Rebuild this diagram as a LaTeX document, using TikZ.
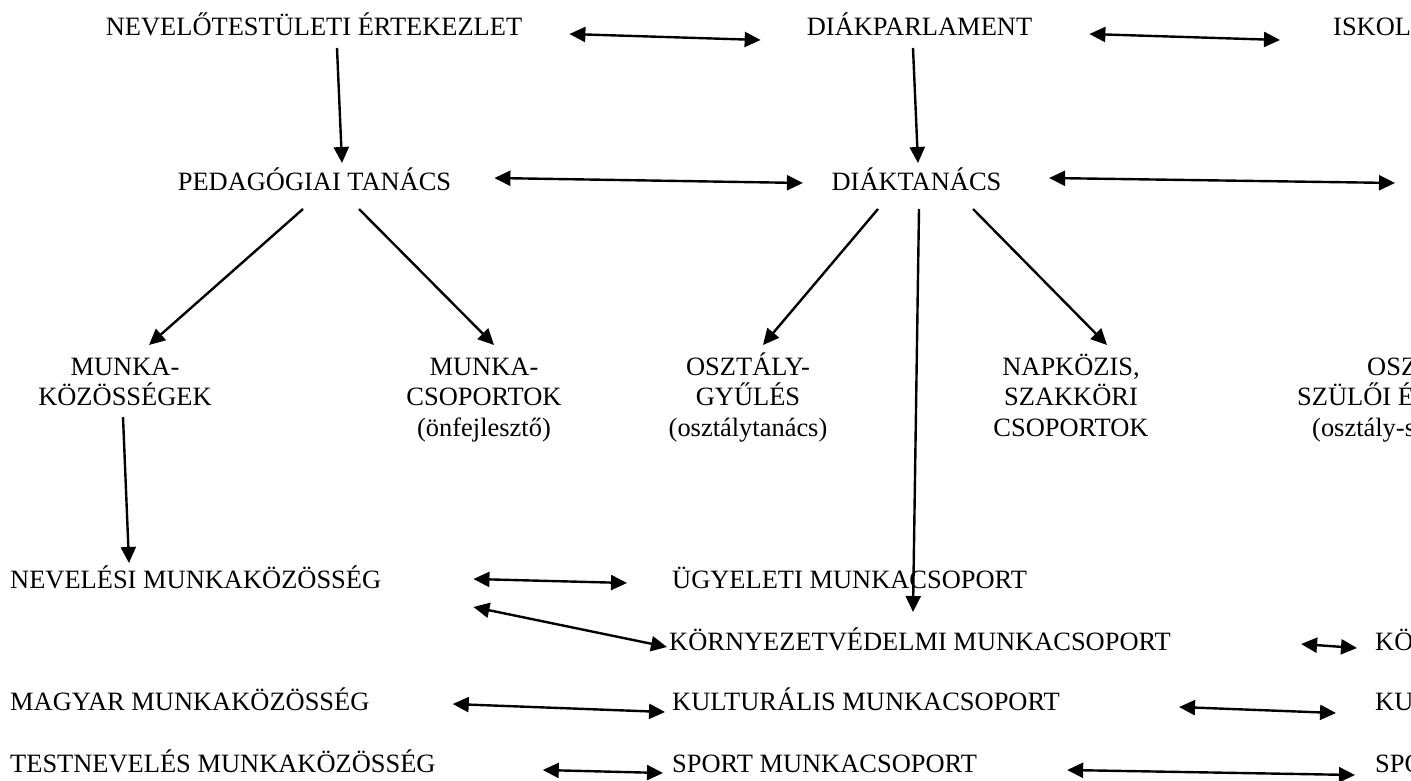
\documentclass[tikz,border=0pt]{standalone}
\usepackage{fontspec}
\setmainfont{Liberation Serif}
\usetikzlibrary{arrows.meta,calc}
\newcommand{\fsz}{\fontsize{26.45pt}{30.5pt}\selectfont}

\begin{document}
\begin{tikzpicture}[x=1pt, y=-1pt,
    lbl/.style={inner sep=0pt, anchor=base, align=center, font=\fsz},
    lblw/.style={lbl, anchor=base west},
    link/.style={-{Triangle[length=16pt,width=15pt]}, line width=2.4pt},
    both/.style={{Triangle[length=16pt,width=15pt]}-{Triangle[length=16pt,width=15pt]}, line width=2.4pt}]
    \useasboundingbox (0,0) rectangle (1411,781);

    % First row
    \node[lbl] (lbl-1-1) at (314,36) {NEVELŐTESTÜLETI ÉRTEKEZLET};
    \node[lbl] (lbl-1-2) at (919.5,36) {DIÁKPARLAMENT};
    \node[lblw] (lbl-1-3) at (1333,36) {ISKOL};

    % Second row
    \node[lbl] (lbl-2-1) at (314.5,190) {PEDAGÓGIAI TANÁCS};
    \node[lbl] (lbl-2-2) at (916.5,190) {DIÁKTANÁCS};
    \coordinate (lbl-2-3) at (1395,183);

    % Third row (base = last line)
    \node[lbl] (lbl-3-1) at (125,405.5) {MUNKA-\\KÖZÖSSÉGEK};
    \node[lbl] (lbl-3-2) at (484,436) {MUNKA-\\CSOPORTOK\\(önfejlesztő)};
    \node[lbl] (lbl-3-3) at (748,436) {OSZTÁLY-\\GYŰLÉS\\(osztálytanács)};
    \node[lbl] (lbl-3-4) at (1071,436) {NAPKÖZIS,\\SZAKKÖRI\\CSOPORTOK};
    \node[lblw] (lbl-3-5) at (1367,375) {OSZ};
    \node[lblw] (lbl-3-6) at (1297,405.5) {SZÜLŐI É};
    \node[lblw] (lbl-3-7) at (1312,436) {(osztály-s};

    % Working groups
    \node[lblw] (lbl-4-1) at (10,588) {NEVELÉSI MUNKAKÖZÖSSÉG};
    \node[lblw] (lbl-4-2) at (672,588) {ÜGYELETI MUNKACSOPORT};

    \node[lblw] (lbl-5-1) at (669,650) {KÖRNYEZETVÉDELMI MUNKACSOPORT};
    \node[lblw] (lbl-5-2) at (1375,650) {KÖ};

    \node[lblw] (lbl-6-1) at (10,710) {MAGYAR MUNKAKÖZÖSSÉG};
    \node[lblw] (lbl-6-2) at (672,710) {KULTURÁLIS MUNKACSOPORT};
    \node[lblw] (lbl-6-3) at (1375,710) {KU};

    \node[lblw] (lbl-7-1) at (10,772) {TESTNEVELÉS MUNKAKÖZÖSSÉG};
    \node[lblw] (lbl-7-2) at (672,772) {SPORT MUNKACSOPORT};
    \node[lblw] (lbl-7-3) at (1375,772) {SPO};

    % Top arrows
    \draw[both] ($(lbl-1-1.base east)+(47,-2)$) -- ($(lbl-1-2.base west)+(-46,4)$);
    \draw[both] ($(lbl-1-2.base east)+(57,-2)$) -- ($(lbl-1-3.base west)+(-53,4)$);
    \draw[link] ($(lbl-1-1.base)+(23,12)$) -- ($(lbl-2-1.base)+(27.5,-27)$);
    \draw[link] ($(lbl-1-2.base)+(-6.5,12)$) -- ($(lbl-2-2.base)+(1.5,-27)$);
    \draw[both] ($(lbl-2-1.base east)+(43,-12)$) -- ($(lbl-2-2.base west)+(-28.5,-7)$);
    \draw[both] ($(lbl-2-2.base east)+(47.5,-12)$) -- (lbl-2-3);

    % Down to the groups
    \draw[link] ($(lbl-2-1.base)+(-11.5,19)$) -- ($(lbl-3-1.base)+(24,-60.5)$);
    \draw[link] ($(lbl-2-1.base)+(44.5,19)$) -- ($(lbl-3-2.base)+(10,-91)$);
    \draw[link] ($(lbl-2-2.base)+(-38.5,19)$) -- ($(lbl-3-3.base)+(15,-91)$);
    \draw[link] ($(lbl-2-2.base)+(56.5,19)$) -- ($(lbl-3-4.base)+(36,-91)$);
    \draw[link] ($(lbl-2-2.base)+(2.5,19)$) -- ($(lbl-4-2.base west)+(241,24)$);
    \draw[link] ($(lbl-3-1.base)+(-2,11.5)$) -- ($(lbl-4-1.base west)+(119,-25)$);

    % Bottom arrows
    \draw[both] ($(lbl-4-1.base east)+(92,-9)$) -- ($(lbl-4-2.base west)+(-45,-5)$);
    \draw[both] ($(lbl-4-1.base east)+(92,19)$) -- ($(lbl-5-1.base west)+(-2,-3)$);
    \draw[both] ($(lbl-5-1.base east)+(130,-6)$) -- ($(lbl-5-2.base west)+(-18,-2)$);
    \draw[both] ($(lbl-6-1.base east)+(83,-6)$) -- ($(lbl-6-2.base west)+(-7,2)$);
    \draw[both] ($(lbl-6-2.base east)+(119,-3)$) -- ($(lbl-6-3.base west)+(-39,3)$);
    \draw[both] ($(lbl-7-1.base east)+(107,-2)$) -- ($(lbl-7-2.base west)+(-9,1)$);
    \draw[both] ($(lbl-7-2.base east)+(90,-2)$) -- ($(lbl-7-3.base west)+(-20,3)$);

\end{tikzpicture}
\end{document}
